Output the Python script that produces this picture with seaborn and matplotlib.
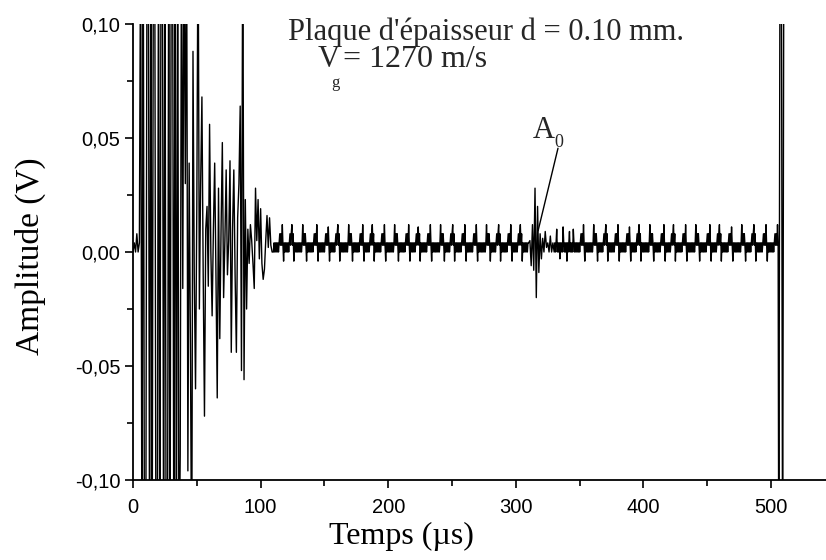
import numpy as np
import pandas as pd
import matplotlib
matplotlib.use("Agg")
import matplotlib.pyplot as plt
from matplotlib.ticker import FixedLocator, MultipleLocator
import seaborn as sns

# ---------------- data: amplitudes in mV ----------------
# each record: start time (µs), sampling step (µs), samples
pre_trigger_start, pre_trigger_step = 0.0, 1.0
pre_trigger_mV = [0, 4, 0, 8, 0, 4]

burst_start, burst_step = 6.0, 1.0
burst_saturated_mV = [150, -150, 150, -150, -150, 150, 150, -150, 150, -150, 150, 150,
                      -150, -150, 150, -150, 150, 150, -150, 150, -150, -150, 150, -150,
                      150, 150, -150, 150, -150, 150, -150]
burst_decay_mV = [-89, 150, -16, 150, 30, 150, -96, 39, -40, -150, 88, -10, -60, 20, 150,
                  -25, 30, 68, -10, -72, 10, 20, -15, 56, 0, -28, 10, 39, -10, -64, 28, -38,
                  10, 48, -20, 5, 36, -10, 5, 40, -44, 10, 36, -10, -44, 15, 30, 64, -52,
                  150, -56, 23, -25, 10, -5, 12, 5, -5, -16, 28, 5, 23, -3, 19, -5, -12,
                  -7.5, 5, 16, 2, 15, 3, 0]

noise1_start, noise1_step = 110.0, 0.5
noise_before_a0_mV = [
    0, 4, 0, 4, 0, 4, 0, 4, 0, 4, 8, 3, 8, 3, 12, 3, -4, 4,
    0, 4, 0, 4, 0, 4, 0, 4, 8, 3, 8, 12, 3, 8, -4, 4,
    0, 4, 0, 4, 0, 4, 0, 4, 0, 4, 0, 4, 12, 3, 8, 3, 8, 3, -4, 4,
    0, 4, 0, 4, 0, 4, 0, 4, 0, 4, 8, 3, 8, 3, 12, 3, -4, 4,
    0, 4, 0, 4, 0, 4, 0, 4, 0, 4, 8, 3, 8, 3, 11, 3, -4, 4,
    0, 4, 0, 4, 0, 4, 0, 4, 8, 3, 8, 12, 3, 8, -4, 4,
    0, 4, 0, 4, 0, 4, 0, 4, 0, 4, 0, 4, 12, 3, 8, 3, 8, 3, -4, 4,
    0, 4, 0, 4, 0, 4, 0, 4, 0, 4, 8, 3, 8, 3, 12, 3, -4, 4,
    0, 4, 0, 4, 0, 4, 0, 4, 8, 3, 8, 12, 3, 8, -4, 4,
    0, 4, 0, 4, 0, 4, 0, 4, 0, 4, 8, 3, 8, 3, 12, 3, -4, 4,
    0, 4, 0, 4, 0, 4, 0, 4, 0, 4, 0, 4, 12, 3, 8, 3, 8, 3, -4, 4,
    0, 4, 0, 4, 0, 4, 0, 4, 0, 4, 8, 3, 8, 3, 12, 3, -4, 4,
    0, 4, 0, 4, 0, 4, 0, 4, 8, 3, 8, 11, 3, 8, -4, 4,
    0, 4, 0, 4, 0, 4, 0, 4, 0, 4, 8, 3, 8, 3, 12, 3, -4, 4,
    0, 4, 0, 4, 0, 4, 0, 4, 0, 4, 0, 4, 12, 3, 8, 3, 8, 3, -4, 4,
    0, 4, 0, 4, 0, 4, 0, 4, 8, 3, 8, 12, 3, 8, -4, 4,
    0, 4, 0, 4, 0, 4, 0, 4, 0, 4, 8, 3, 8, 3, 12, 3, -4, 4,
    0, 4, 0, 4, 0, 4, 0, 4, 0, 4, 8, 3, 8, 3, 12, 3, -4, 4,
    0, 4, 0, 4, 0, 4, 0, 4, 0, 4, 0, 4, 12, 3, 8, 3, 8, 3, -4, 4,
    0, 4, 0, 4, 0, 4, 0, 4, 8, 3, 8, 12, 3, 8, -4, 4,
    0, 4, 0, 4, 0, 4, 0, 4, 0, 4, 8, 3, 8, 3, 12, 3, -4, 4,
    0, 4, 0, 4, 0, 4, 0, 4, 8, 3, 8, 12, 3, 8, -4, 4,
    0, 4, 0, 4, 0, 4, 0, 4]

a0_start, a0_step = 310.0, 1.0
a0_packet_mV = [4, 5, -6, 12, -8, 28, -20, 20, -9, 8, -3, 6, 0, 9, 2, 4, 0, 7, 0, 4]

noise2_start, noise2_step = 330.0, 0.5
noise_after_a0_mV = [
    0, 4, 0, 4, 10, 0, 4, 0, 4, -3, 4, 0, 4, 0, 11, 4,
    0, 4, 0, 4, -4, 4, 0, 4, 9, 0, 4, 0, 4, 0, 10, 4,
    0, 4, 0, 4, 0, 4, 0, 4, 0, 4, 8, 3, 8, 3, 12, 3, -4, 4,
    0, 4, 0, 4, 0, 4, 0, 4, 0, 4, 0, 4, 12, 3, 8, 3, 8, 3, -4, 4,
    0, 4, 0, 4, 0, 4, 0, 4, 8, 3, 8, 12, 3, 8, -4, 4,
    0, 4, 0, 4, 0, 4, 0, 4, 0, 4, 8, 3, 8, 3, 12, 3, -4, 4,
    0, 4, 0, 4, 0, 4, 0, 4, 0, 4, 8, 3, 8, 3, 11, 3, -4, 4,
    0, 4, 0, 4, 0, 4, 0, 4, 8, 3, 8, 12, 3, 8, -4, 4,
    0, 4, 0, 4, 0, 4, 0, 4, 0, 4, 0, 4, 12, 3, 8, 3, 8, 3, -4, 4,
    0, 4, 0, 4, 0, 4, 0, 4, 0, 4, 8, 3, 8, 3, 12, 3, -4, 4,
    0, 4, 0, 4, 0, 4, 0, 4, 8, 3, 8, 12, 3, 8, -4, 4,
    0, 4, 0, 4, 0, 4, 0, 4, 0, 4, 8, 3, 8, 3, 12, 3, -4, 4,
    0, 4, 0, 4, 0, 4, 0, 4, 0, 4, 0, 4, 12, 3, 8, 3, 8, 3, -4, 4,
    0, 4, 0, 4, 0, 4, 0, 4, 0, 4, 8, 3, 8, 3, 12, 3, -4, 4,
    0, 4, 0, 4, 0, 4, 0, 4, 8, 3, 8, 12, 3, 8, -4, 4,
    0, 4, 0, 4, 0, 4, 0, 4, 0, 4, 8, 3, 8, 3, 11, 3, -4, 4,
    0, 4, 0, 4, 0, 4, 0, 4, 0, 4, 0, 4, 12, 3, 8, 3, 8, 3, -4, 4,
    0, 4, 0, 4, 0, 4, 0, 4, 8, 3, 8, 12, 3, 8, -4, 4,
    0, 4, 0, 4, 0, 4, 0, 4, 0, 4, 8, 3, 8, 3, 12, 3, -4, 4,
    0, 4, 0, 4, 0, 4, 0, 4, 0, 4, 8, 3, 8, 3, 12, 3]

echo_start, echo_step = 506.0, 1.0
echo_mV = [-150, 150, 150, -150, 150]

y_ticks = [-0.10, -0.05, 0.00, 0.05, 0.10]
y_tick_labels = ["-0,10", "-0,05", "0,00", "0,05", "0,10"]
x_ticks = [0, 100, 200, 300, 400, 500]
x_tick_labels = ["0", "100", "200", "300", "400", "500"]

title_line1 = "Plaque d'épaisseur d = 0.10 mm."
title_v = "V"
title_g = "g"
title_line2 = "= 1270 m/s"
a0_label = "A"
a0_sub = "0"

# ---------------- assemble ----------------
records = [
    (pre_trigger_start, pre_trigger_step, pre_trigger_mV),
    (burst_start, burst_step, burst_saturated_mV + burst_decay_mV),
    (noise1_start, noise1_step, noise_before_a0_mV),
    (a0_start, a0_step, a0_packet_mV),
    (noise2_start, noise2_step, noise_after_a0_mV),
    (echo_start, echo_step, echo_mV),
]
times, amps = [], []
for start, step, vals in records:
    times.append(start + step * np.arange(len(vals)))
    amps.append(np.asarray(vals, dtype=float))
df = pd.DataFrame({"Temps": np.concatenate(times),
                   "Amplitude": np.concatenate(amps) / 1000.0})

# ---------------- figure ----------------
sns.set_theme(style="ticks")
plt.rcParams["font.family"] = ["Liberation Sans", "DejaVu Sans"]

W, H = 826, 560
fig = plt.figure(figsize=(W / 100, H / 100), dpi=100)
ax = fig.add_axes([133 / W, 80 / H, (W - 133) / W, 456 / H])

sns.lineplot(data=df, x="Temps", y="Amplitude", color="black", linewidth=1.0,
             estimator=None, sort=False, ax=ax)

ax.set_xlim(0, 543)
ax.set_ylim(-0.10, 0.10)
sns.despine(ax=ax)
for s in ("left", "bottom"):
    ax.spines[s].set_linewidth(1.3)
    ax.spines[s].set_color("black")

ax.yaxis.set_major_locator(FixedLocator(y_ticks))
ax.set_yticklabels(y_tick_labels)
ax.yaxis.set_minor_locator(MultipleLocator(0.025))
ax.xaxis.set_major_locator(FixedLocator(x_ticks))
ax.set_xticklabels(x_tick_labels)
ax.xaxis.set_minor_locator(MultipleLocator(50))
ax.tick_params(axis="both", which="major", direction="out", length=6, width=1.2,
               colors="black", labelsize=14.5)
ax.tick_params(axis="both", which="minor", direction="out", length=4, width=1.2,
               colors="black")
ax.tick_params(axis="x", which="major", pad=7)
ax.tick_params(axis="y", which="major", pad=3)

serif = ["Liberation Serif", "DejaVu Serif"]
ax.set_xlabel("Temps (µs)", fontsize=23, family=serif, color="black")
ax.set_ylabel("Amplitude (V)", fontsize=24, family=serif, color="black")
ax.xaxis.set_label_coords((401 - 133) / (W - 133), (480 - 522) / 456)
ax.yaxis.set_label_coords((46 - 133) / (W - 133), 0.49)

# title lines
fig.text(288 / W, 1 - 40 / H, title_line1, fontsize=22, family=serif, va="baseline", ha="left")
fig.text(318 / W, 1 - 67 / H, title_v, fontsize=22, family=serif, va="baseline", ha="left")
fig.text(331 / W, 1 - 87 / H, title_g, fontsize=12, family=serif, va="baseline", ha="left")
fig.text(343 / W, 1 - 67 / H, title_line2, fontsize=23, family=serif, va="baseline", ha="left")

# A0 annotation
ax.annotate("", xy=(317.4, 0.0093), xytext=(333.0, 0.0455),
            arrowprops=dict(arrowstyle="-", color="black", lw=1.0, shrinkA=0, shrinkB=0))
ax.text(322.0, 0.0500, a0_label, fontsize=22, family=serif, ha="center", va="baseline")
ax.text(334.0, 0.0460, a0_sub, fontsize=13, family=serif, ha="center", va="baseline")

fig.savefig("out.png", dpi=100)
